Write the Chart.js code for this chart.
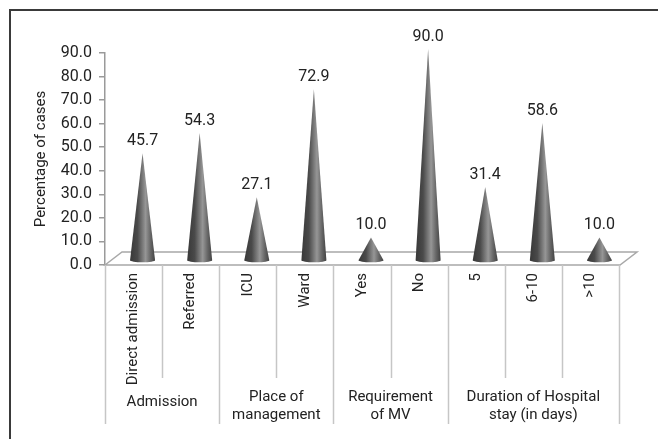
<!DOCTYPE html>
<html>
<head>
<meta charset="utf-8">
<script src="https://cdn.jsdelivr.net/npm/chart.js@4.4.1/dist/chart.umd.min.js"></script>
<style>
  html, body { margin: 0; padding: 0; background: #ffffff; }
  canvas { display: block; }
</style>
</head>
<body>
<canvas id="chart" width="658" height="439"></canvas>
<script>
// Categories along the horizontal axis
const categories = ['Direct admission', 'Referred', 'ICU', 'Ward', 'Yes', 'No', '5', '6-10', '>10'];
// Percentage of cases for each category
const percentages = [45.7, 54.3, 27.1, 72.9, 10.0, 90.0, 31.4, 58.6, 10.0];
// Group captions (one array of lines per group) and how many categories each group spans
const groupNames = [['Admission'], ['Place of', 'management'], ['Requirement', 'of MV'], ['Duration of Hospital', 'stay (in days)']];
const groupSizes = [2, 2, 2, 3];
// Value axis ticks
const yTicks = [0, 10, 20, 30, 40, 50, 60, 70, 80, 90];

const TEXT_FONT = 'Roboto';
const TEXT_COLOR = '#222222';
const FLOOR_DX = 17, FLOOR_DY = 13;   // depth of the floor slab
const CONE_DX = 9, CONE_DY = 4;       // cones stand in the middle of the floor depth
const CONE_HALF = 12.5;

const conePlugin = {
  id: 'cones',
  beforeDraw(chart) {
    const { ctx } = chart;
    ctx.save();
    ctx.strokeStyle = '#3a3a3a';
    ctx.lineWidth = 2;
    ctx.strokeRect(10, 10, 700, 500);
    ctx.restore();
  },
  beforeDatasetsDraw(chart) {
    const { ctx, chartArea: a, scales: { y } } = chart;
    const y0 = y.getPixelForValue(0);
    ctx.save();
    ctx.beginPath();
    ctx.moveTo(a.left, y0);
    ctx.lineTo(a.left + FLOOR_DX, y0 - FLOOR_DY);
    ctx.lineTo(a.right + FLOOR_DX + 1, y0 - FLOOR_DY);
    ctx.lineTo(a.right + 1, y0);
    ctx.closePath();
    ctx.fillStyle = '#ffffff';
    ctx.fill();
    ctx.strokeStyle = '#a8a8a8';
    ctx.lineWidth = 1.5;
    ctx.stroke();
    ctx.restore();
  },
  afterDatasetsDraw(chart) {
    const { ctx } = chart;
    const meta = chart.getDatasetMeta(0);
    ctx.save();
    meta.data.forEach((bar, i) => {
      const cx = bar.x + CONE_DX;
      const tip = bar.y - CONE_DY;
      const base = bar.base - CONE_DY;
      const g = ctx.createLinearGradient(cx - CONE_HALF, 0, cx + CONE_HALF, 0);
      g.addColorStop(0, '#383838');
      g.addColorStop(0.3, '#4a4a4a');
      g.addColorStop(0.62, '#969696');
      g.addColorStop(0.82, '#666666');
      g.addColorStop(1, '#424242');
      ctx.beginPath();
      ctx.moveTo(cx, tip);
      ctx.lineTo(cx + CONE_HALF, base);
      ctx.ellipse(cx, base, CONE_HALF, 2, 0, 0, Math.PI);
      ctx.closePath();
      ctx.fillStyle = g;
      ctx.fill();

      ctx.fillStyle = TEXT_COLOR;
      ctx.font = '16px ' + TEXT_FONT;
      ctx.textAlign = 'center';
      ctx.textBaseline = 'alphabetic';
      ctx.fillText(percentages[i].toFixed(1), cx, tip - 8);
    });
    ctx.restore();
  },
  afterDraw(chart) {
    const { ctx, chartArea: a, scales: { x } } = chart;
    const y0 = a.bottom;
    const n = categories.length;
    const bounds = [];
    for (let i = 0; i <= n; i++) {
      if (i === 0) bounds.push(a.left);
      else if (i === n) bounds.push(a.right);
      else bounds.push((x.getPixelForValue(i - 1) + x.getPixelForValue(i)) / 2);
    }
    const groupEdges = [0];
    groupSizes.forEach(s => groupEdges.push(groupEdges[groupEdges.length - 1] + s));

    ctx.save();
    ctx.strokeStyle = '#c6c6c6';
    ctx.lineWidth = 1.5;
    bounds.forEach((bx, i) => {
      const long = groupEdges.includes(i);
      ctx.beginPath();
      ctx.moveTo(Math.round(bx) + 0.5, y0);
      ctx.lineTo(Math.round(bx) + 0.5, y0 + (long ? 159 : 113));
      ctx.stroke();
    });

    ctx.fillStyle = TEXT_COLOR;
    ctx.font = '15px ' + TEXT_FONT;
    ctx.textAlign = 'center';
    ctx.textBaseline = 'middle';
    groupNames.forEach((lines, gi) => {
      const cx = (bounds[groupEdges[gi]] + bounds[groupEdges[gi + 1]]) / 2;
      const startY = lines.length === 1 ? y0 + 137 : y0 + 132;
      lines.forEach((ln, li) => ctx.fillText(ln, cx, startY + li * 18));
    });
    ctx.restore();
  }
};

new Chart(document.getElementById('chart'), {
  type: 'bar',
  data: {
    labels: categories,
    datasets: [{
      data: percentages,
      backgroundColor: 'rgba(0,0,0,0)',
      borderWidth: 0
    }]
  },
  options: {
    responsive: false,
    animation: false,
    devicePixelRatio: 1,
    layout: { padding: { left: 20, right: 39, top: 53, bottom: 0 } },
    plugins: { legend: { display: false }, tooltip: { enabled: false } },
    scales: {
      x: {
        type: 'category',
        grid: { display: false, drawTicks: false },
        border: { display: false },
        ticks: {
          autoSkip: false,
          minRotation: 90,
          maxRotation: 90,
          padding: 8,
          color: TEXT_COLOR,
          font: { family: TEXT_FONT, size: 15 }
        },
        afterFit(s) { s.height = 174; }
      },
      y: {
        min: 0,
        max: 90,
        afterBuildTicks(s) { s.ticks = yTicks.map(v => ({ value: v })); },
        grid: { drawOnChartArea: false, color: '#9a9a9a', tickLength: 6, lineWidth: 1.5 },
        border: { color: '#9a9a9a', width: 1.5 },
        ticks: {
          padding: 7,
          color: TEXT_COLOR,
          font: { family: TEXT_FONT, size: 16 },
          callback: v => Number(v).toFixed(1)
        },
        title: {
          display: true,
          text: 'Percentage of cases',
          color: TEXT_COLOR,
          font: { family: TEXT_FONT, size: 15 },
          padding: { top: 12, bottom: 0 }
        },
        afterFit(s) { s.width = 85; }
      }
    }
  },
  plugins: [conePlugin]
});
</script>
</body>
</html>
